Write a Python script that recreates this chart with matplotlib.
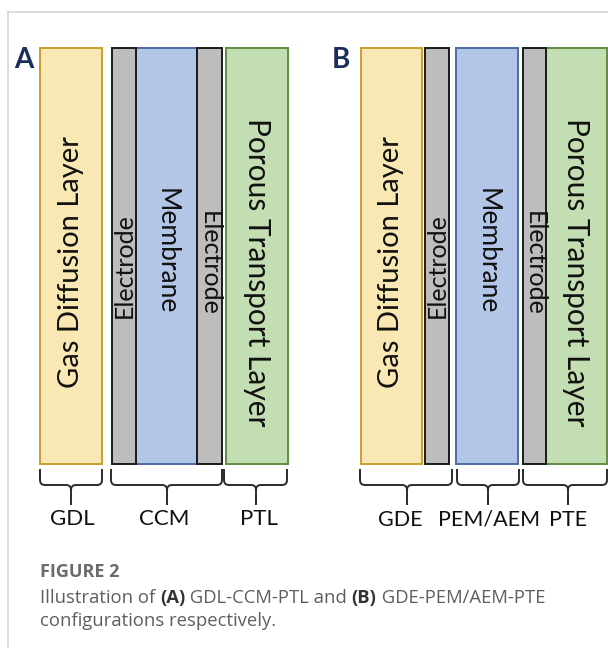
import matplotlib
matplotlib.use("Agg")
import matplotlib.pyplot as plt
from matplotlib.patches import Rectangle, PathPatch
from matplotlib.path import Path

# layer stacks for the two configurations
names_a = ["Gas Diffusion Layer", "Electrode", "Membrane", "Electrode", "Porous Transport Layer"]
kinds_a = ["gdl", "el", "mem", "el", "ptl"]
names_b = ["Gas Diffusion Layer", "Electrode", "Membrane", "Electrode", "Porous Transport Layer"]
kinds_b = ["gdl", "el", "mem", "el", "ptl"]

groups_a = ["GDL", "CCM", "PTL"]
groups_b = ["GDE", "PEM/AEM", "PTE"]

caption_title = "FIGURE 2"
caption_parts = [("Illustration of ", "normal"), ("(A)", "bold"), (" GDL-CCM-PTL and ", "normal"),
                 ("(B)", "bold"), (" GDE-PEM/AEM-PTE", "normal")]
caption_line2 = "configurations respectively."

# layout (pixel units)
left_a = [40, 112, 136, 197, 226]
right_a = [102, 136, 197, 222, 288]
left_b = [361, 425, 456, 523, 546]
right_b = [422, 449, 518, 546, 607]
text_y = [262, 266, 251, 263, 272]
rot_a = [90, 90, 270, 270, 270]
rot_b = [90, 90, 270, 270, 270]
span_a = [(40, 102, 71), (111, 222, 167), (224, 287, 256)]
span_b = [(360, 452, 407), (457, 519, 488), (523, 607, 568)]
label_x_a = [72, 164, 259]
label_x_b = [400, 489, 568]
top, bottom = 48, 464

styles = {
    "gdl": dict(fc="#f9e8b3", ec="#c9a02e", fs=21),
    "el": dict(fc="#bdbdbd", ec="#1a1a1a", fs=18),
    "mem": dict(fc="#b3c6e7", ec="#4a6da3", fs=19),
    "ptl": dict(fc="#c3deb3", ec="#5f8d42", fs=21.5),
}

FONT = "Lato"
CAP_FONT = "Open Sans"

fig = plt.figure(figsize=(6.08, 6.48), dpi=100)
ax = fig.add_axes([0, 0, 1, 1])
ax.set_xlim(0, 608)
ax.set_ylim(648, 0)
ax.axis("off")

# card frame
ax.plot([8, 608], [12, 12], color="#d6d6d6", lw=1.2)
ax.plot([8, 8], [12, 648], color="#d6d6d6", lw=1.2)


def draw_stack(names, kinds, lefts, rights, rots):
    for name, kind, x0, x1, rot, ty in zip(names, kinds, lefts, rights, rots, text_y):
        st = styles[kind]
        ax.add_patch(Rectangle((x0, top), x1 - x0, bottom - top, fc=st["fc"],
                               ec=st["ec"], lw=1.4, zorder=2 if kind != "el" else 3))
        ax.text((x0 + x1) / 2, ty, name, rotation=rot,
                ha="center", va="center", fontsize=st["fs"], family=FONT,
                color="#111111", zorder=4)


def brace(x0, x1, xm, y0=469, y1=485, y2=505, r=5):
    verts = [(x0, y0), (x0, y1 - r), (x0, y1), (x0 + r, y1), (xm - r, y1), (xm, y1), (xm, y1 + r),
             (xm, y2)]
    codes = [Path.MOVETO, Path.LINETO, Path.CURVE3, Path.CURVE3, Path.LINETO, Path.CURVE3,
             Path.CURVE3, Path.LINETO]
    ax.add_patch(PathPatch(Path(verts, codes), fill=False, ec="#2b2b2b", lw=1.4))
    verts = [(x1, y0), (x1, y1 - r), (x1, y1), (x1 - r, y1), (xm + r, y1), (xm, y1), (xm, y1 + r)]
    codes = [Path.MOVETO, Path.LINETO, Path.CURVE3, Path.CURVE3, Path.LINETO, Path.CURVE3,
             Path.CURVE3]
    ax.add_patch(PathPatch(Path(verts, codes), fill=False, ec="#2b2b2b", lw=1.4))


draw_stack(names_a, kinds_a, left_a, right_a, rot_a)
draw_stack(names_b, kinds_b, left_b, right_b, rot_b)

for (x0, x1, xm), lab, lx in zip(span_a, groups_a, label_x_a):
    brace(x0, x1, xm)
    ax.text(lx, 525, lab, ha="center", va="baseline", fontsize=16, family=FONT, color="#111111")
for (x0, x1, xm), lab, lx in zip(span_b, groups_b, label_x_b):
    brace(x0, x1, xm)
    ax.text(lx, 526, lab, ha="center", va="baseline", fontsize=15.5, family=FONT, color="#111111")

# panel letters
ax.text(14, 68, "A", fontsize=20, fontweight="bold", family=FONT, color="#1b2d5b", va="baseline")
ax.text(332, 68, "B", fontsize=20, fontweight="bold", family=FONT, color="#1b2d5b", va="baseline")

# caption
ax.text(40, 577, caption_title, fontsize=13, fontweight="bold", family=CAP_FONT,
        color="#6a6a6a", va="baseline")
renderer = fig.canvas.get_renderer()
x = 40
for s, w in caption_parts:
    t = ax.text(x, 603, s, fontsize=13.3, fontweight=w, family=CAP_FONT, va="baseline",
                color="#333333" if w == "bold" else "#5e5e5e")
    x += t.get_window_extent(renderer).width
ax.text(40, 626, caption_line2, fontsize=13.3, family=CAP_FONT, color="#5e5e5e", va="baseline")

fig.savefig("out.png", dpi=100)
